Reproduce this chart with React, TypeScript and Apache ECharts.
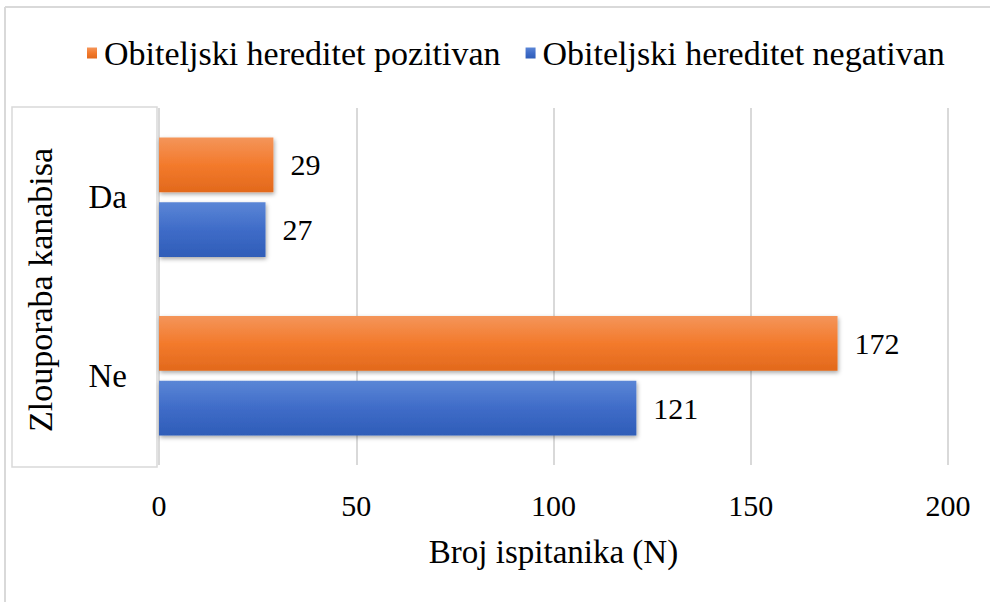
import React, { useEffect, useRef } from "react";
import * as echarts from "echarts";

const categories = ["Ne", "Da"];
const positiveValues = [172, 29];
const negativeValues = [121, 27];
const seriesNames = ["Obiteljski hereditet pozitivan", "Obiteljski hereditet negativan"];
const xTicks = [0, 50, 100, 150, 200];

const FONT = "Liberation Serif";

export default function App() {
  const ref = useRef<HTMLDivElement>(null);
  useEffect(() => {
    if (!ref.current) return;
    const chart = echarts.init(ref.current, undefined, { renderer: "svg" });
    const orangeGrad = new echarts.graphic.LinearGradient(0, 0, 0, 1, [
      { offset: 0, color: "#F4955A" },
      { offset: 0.5, color: "#F37A2C" },
      { offset: 1, color: "#E2691C" },
    ]);
    const blueGrad = new echarts.graphic.LinearGradient(0, 0, 0, 1, [
      { offset: 0, color: "#5B86D6" },
      { offset: 0.5, color: "#3F6CC8" },
      { offset: 1, color: "#2F5DB8" },
    ]);
    const shadow = { shadowBlur: 4, shadowColor: "rgba(0,0,0,0.35)", shadowOffsetY: 2, shadowOffsetX: 1 };
    chart.setOption({
      animation: false,
      backgroundColor: "#ffffff",
      textStyle: { fontFamily: FONT },
      legend: {
        data: [seriesNames[0], seriesNames[1]],
        top: 31,
        left: 82,
        icon: "rect",
        itemWidth: 10,
        itemHeight: 11,
        itemGap: 25,
        textStyle: { fontFamily: FONT, fontSize: 34, color: "#000", padding: [0, 0, 0, 2] },
      },
      grid: { left: 159, right: 42, top: 108, bottom: 137 },
      xAxis: {
        type: "value",
        min: xTicks[0],
        max: xTicks[xTicks.length - 1],
        interval: 50,
        name: "Broj ispitanika (N)",
        nameLocation: "middle",
        nameGap: 70,
        nameTextStyle: { fontFamily: FONT, fontSize: 33, color: "#000" },
        axisLine: { show: false },
        axisTick: { show: false },
        axisLabel: { fontFamily: FONT, fontSize: 30, color: "#000", margin: 25 },
        splitLine: { show: true, lineStyle: { color: "#d9d9d9", width: 2 } },
      },
      yAxis: {
        type: "category",
        data: categories,
        axisLine: { show: false },
        axisTick: { show: false },
        axisLabel: { fontFamily: FONT, fontSize: 33, color: "#000", margin: 32 },
      },
      graphic: [
        { type: "line", shape: { x1: 5, y1: 7, x2: 990, y2: 7 }, style: { stroke: "#d9d9d9", lineWidth: 2 } },
        { type: "line", shape: { x1: 5, y1: 7, x2: 5, y2: 602 }, style: { stroke: "#d9d9d9", lineWidth: 2 } },
        { type: "rect", shape: { x: 12, y: 107, width: 145, height: 360 }, style: { fill: "none", stroke: "#d9d9d9", lineWidth: 1.5 } },
        {
          type: "text",
          x: 40,
          y: 290,
          rotation: Math.PI / 2,
          style: { text: "Zlouporaba kanabisa", font: "34px Liberation Serif", fill: "#000", align: "center", verticalAlign: "middle" },
        },
      ],
      series: [
        {
          name: seriesNames[0],
          type: "bar",
          data: positiveValues,
          barCategoryGap: "33%",
          barGap: "18%",
          itemStyle: { color: orangeGrad, ...shadow },
          label: { show: true, position: "right", distance: 17, fontFamily: FONT, fontSize: 30, color: "#000" },
        },
        {
          name: seriesNames[1],
          type: "bar",
          data: negativeValues,
          barCategoryGap: "33%",
          barGap: "18%",
          itemStyle: { color: blueGrad, ...shadow },
          label: { show: true, position: "right", distance: 17, fontFamily: FONT, fontSize: 30, color: "#000" },
        },
      ],
    });
    return () => chart.dispose();
  }, []);
  return <div ref={ref} style={{ width: 990, height: 602, position: "absolute", left: 0, top: 0 }} />;
}
